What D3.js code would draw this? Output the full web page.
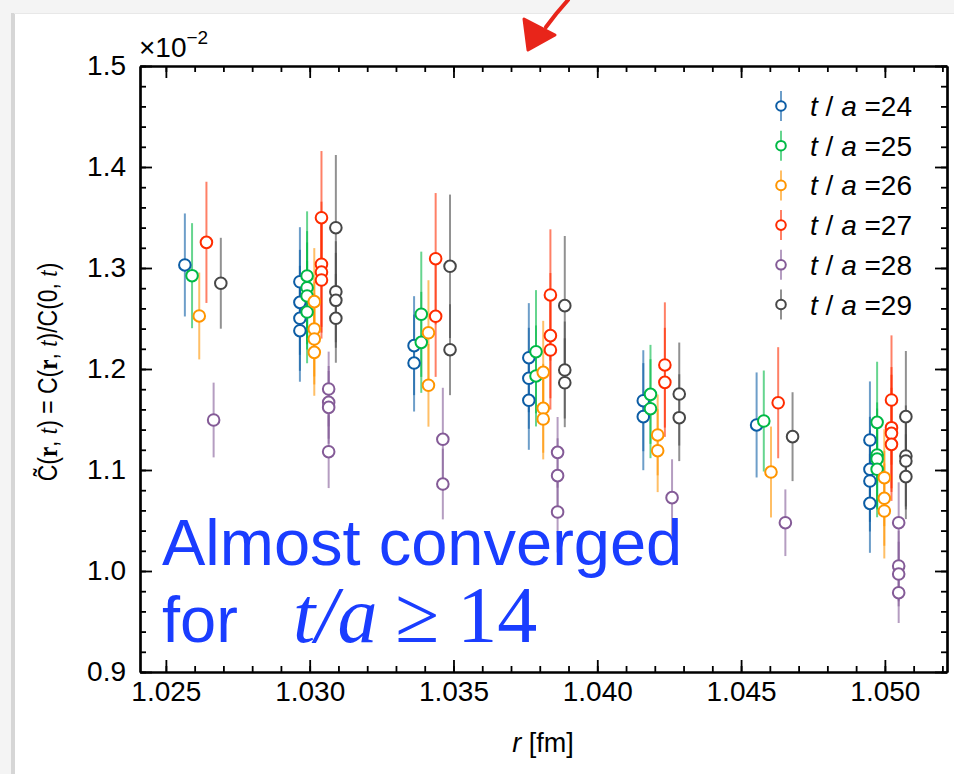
<!DOCTYPE html>
<html>
<head>
<meta charset="utf-8">
<script src="https://cdn.jsdelivr.net/npm/d3@7"></script>
<style>
  body { margin: 0; background: #f4f4f4; }
  svg { display: block; }
</style>
</head>
<body>
<svg id="chart" width="954" height="774"></svg>
<script>
// r values of the seven groups (fm), series drawn with a small dodge
var groupR = [1.02566, 1.02966, 1.03363, 1.03762, 1.04160, 1.04554, 1.04948];
var seriesNames = ["24", "25", "26", "27", "28", "29"];
var seriesColors = ["#0C5DA5", "#00B945", "#FF9500", "#FF2C00", "#845B97", "#474747"];

// [group, value (x1e-2), error]
var t24 = [[0,1.303,0.051],
  [1,1.2864,0.054],[1,1.266,0.052],[1,1.2502,0.052],[1,1.2379,0.0505],
  [2,1.2231,0.049],[2,1.2059,0.048],
  [3,1.2112,0.054],[3,1.1908,0.05],[3,1.1690,0.049],
  [4,1.1686,0.05],[4,1.1528,0.053],
  [5,1.1446,0.052],
  [6,1.1297,0.058],[6,1.1007,0.052],[6,1.0891,0.05],[6,1.0670,0.049]];
var t25 = [[0,1.2924,0.052],
  [1,1.2921,0.064],[1,1.2805,0.056],[1,1.2723,0.053],[1,1.2564,0.0507],
  [2,1.2542,0.062],[2,1.2264,0.050],
  [3,1.2171,0.061],[3,1.1931,0.050],
  [4,1.1749,0.049],[4,1.1607,0.049],
  [5,1.1485,0.05],
  [6,1.1472,0.06],[6,1.1149,0.052],[6,1.1109,0.05],[6,1.1007,0.0475]];
var t26 = [[0,1.2525,0.043],
  [1,1.2667,0.053],[1,1.2396,0.047],[1,1.2297,0.045],[1,1.2165,0.043],
  [2,1.2359,0.052],[2,1.1839,0.041],
  [3,1.1967,0.051],[3,1.1611,0.044],[3,1.1505,0.040],
  [4,1.1347,0.04],[4,1.1191,0.041],
  [5,1.098,0.045],
  [6,1.0924,0.048],[6,1.0720,0.047],[6,1.0594,0.047]];
var t27 = [[0,1.3254,0.06],
  [1,1.3498,0.066],[1,1.3037,0.062],[1,1.296,0.06],[1,1.2881,0.058],
  [2,1.3092,0.065],[2,1.2522,0.060],
  [3,1.2733,0.065],[3,1.2330,0.062],[3,1.2188,0.059],
  [4,1.2040,0.062],[4,1.1868,0.054],
  [5,1.1666,0.055],
  [6,1.1693,0.064],[6,1.1419,0.06],[6,1.1363,0.058],[6,1.1254,0.056]];
var t28 = [[0,1.1495,0.037],
  [1,1.1802,0.037],[1,1.1670,0.036],[1,1.1620,0.036],[1,1.1181,0.036],
  [2,1.1304,0.051],[2,1.0861,0.035],
  [3,1.1175,0.035],[3,1.0944,0.037],[3,1.0584,0.04],
  [4,1.0726,0.038],
  [5,1.0478,0.033],
  [6,1.0478,0.04],[6,1.0050,0.035],[6,0.9970,0.032],[6,0.9785,0.03]];
var t29 = [[0,1.2849,0.045],
  [1,1.3399,0.072],[1,1.2765,0.05],[1,1.2680,0.047],[1,1.2502,0.044],
  [2,1.3017,0.071],[2,1.2191,0.045],
  [3,1.2627,0.069],[3,1.1990,0.048],[3,1.1864,0.044],
  [4,1.1752,0.051],[4,1.1518,0.043],
  [5,1.133,0.044],
  [6,1.1528,0.065],[6,1.1139,0.05],[6,1.1089,0.048],[6,1.0934,0.042]];

var xTicks = [1.025, 1.030, 1.035, 1.040, 1.045, 1.050];
var yTicks = [0.9, 1.0, 1.1, 1.2, 1.3, 1.4, 1.5];

var allSeries = [t24, t25, t26, t27, t28, t29];
var dodge = 0.00025;

var svg = d3.select("#chart"),
    W = 954, H = 774,
    margin = {top: 66, right: 7, bottom: 102, left: 140},
    sans = "'Liberation Sans', Arial, Helvetica, sans-serif",
    serif = "'Liberation Serif', 'Times New Roman', serif";

// slide card background
svg.append("rect").attr("x", 0).attr("y", 0).attr("width", W).attr("height", H).attr("fill", "#f4f4f4");
svg.append("rect").attr("x", 11).attr("y", 13).attr("width", 4).attr("height", H - 13).attr("fill", "#d6d6d6");
svg.append("rect").attr("x", 14).attr("y", 13).attr("width", W - 14).attr("height", 1).attr("fill", "#e8e8e8");
svg.append("rect").attr("x", 15).attr("y", 14).attr("width", W - 15).attr("height", H - 14).attr("fill", "#fff");

var x = d3.scaleLinear().domain([1.0241, 1.05216]).range([margin.left, W - margin.right]);
var y = d3.scaleLinear().domain([0.9, 1.5]).range([H - margin.bottom, margin.top]);

var xMinor = d3.range(1024, 1053).map(function(d) { return d / 1000; })
    .filter(function(d) { return d >= 1.0241 && d <= 1.05216; });
var yMinor = d3.range(45, 76).map(function(d) { return d / 50; });

function styleAxis(g) {
  g.select(".domain").attr("stroke", "#000").attr("stroke-width", 2.2);
  g.selectAll(".tick line").attr("stroke", "#000").attr("stroke-width", 1.8);
  g.selectAll("text").attr("font-family", sans).attr("font-size", 28).attr("fill", "#000");
}

// minor ticks
svg.append("g").attr("transform", "translate(0," + y(0.9) + ")")
  .call(d3.axisBottom(x).tickValues(xMinor).tickSize(-6).tickSizeOuter(0).tickFormat("")).call(styleAxis);
svg.append("g").attr("transform", "translate(0," + y(1.5) + ")")
  .call(d3.axisTop(x).tickValues(xMinor).tickSize(-6).tickSizeOuter(0).tickFormat("")).call(styleAxis);
svg.append("g").attr("transform", "translate(" + x.range()[0] + ",0)")
  .call(d3.axisLeft(y).tickValues(yMinor).tickSize(-6).tickSizeOuter(0).tickFormat("")).call(styleAxis);
svg.append("g").attr("transform", "translate(" + x.range()[1] + ",0)")
  .call(d3.axisRight(y).tickValues(yMinor).tickSize(-6).tickSizeOuter(0).tickFormat("")).call(styleAxis);

// major ticks
svg.append("g").attr("transform", "translate(0," + y(0.9) + ")")
  .call(d3.axisBottom(x).tickValues(xTicks).tickSize(-12).tickSizeOuter(0).tickPadding(9).tickFormat(d3.format(".3f")))
  .call(styleAxis);
svg.append("g").attr("transform", "translate(0," + y(1.5) + ")")
  .call(d3.axisTop(x).tickValues(xTicks).tickSize(-12).tickSizeOuter(0).tickFormat("")).call(styleAxis);
svg.append("g").attr("transform", "translate(" + x.range()[0] + ",0)")
  .call(d3.axisLeft(y).tickValues(yTicks).tickSize(-12).tickSizeOuter(0).tickPadding(14).tickFormat(d3.format(".1f")))
  .call(styleAxis);
svg.append("g").attr("transform", "translate(" + x.range()[1] + ",0)")
  .call(d3.axisRight(y).tickValues(yTicks).tickSize(-12).tickSizeOuter(0).tickFormat("")).call(styleAxis);

// points
var points = [];
allSeries.forEach(function(s, i) {
  s.forEach(function(p) {
    points.push({i: i, r: groupR[p[0]] + i * dodge, v: p[1], e: p[2]});
  });
});

svg.append("g").selectAll("line").data(points).enter().append("line")
  .attr("x1", function(d) { return x(d.r); })
  .attr("x2", function(d) { return x(d.r); })
  .attr("y1", function(d) { return y(d.v + d.e); })
  .attr("y2", function(d) { return y(d.v - d.e); })
  .attr("stroke", function(d) { return seriesColors[d.i]; })
  .attr("stroke-opacity", 0.6)
  .attr("stroke-width", 2);

svg.append("g").selectAll("circle").data(points).enter().append("circle")
  .attr("cx", function(d) { return x(d.r); })
  .attr("cy", function(d) { return y(d.v); })
  .attr("r", 5.8)
  .attr("fill", "#fff")
  .attr("stroke", function(d) { return seriesColors[d.i]; })
  .attr("stroke-width", 2);

// legend
var legend = svg.append("g").selectAll("g").data(seriesNames).enter().append("g")
  .attr("transform", function(d, i) { return "translate(781," + (106 + i * 39.7) + ")"; });
legend.append("line").attr("y1", -15).attr("y2", 15)
  .attr("stroke", function(d, i) { return seriesColors[i]; })
  .attr("stroke-opacity", 0.6).attr("stroke-width", 2);
legend.append("circle").attr("r", 4.8).attr("fill", "#fff")
  .attr("stroke", function(d, i) { return seriesColors[i]; }).attr("stroke-width", 2);
var lt = legend.append("text").attr("x", 29).attr("y", 10)
  .attr("font-family", sans).attr("font-size", 28).attr("fill", "#000");
lt.append("tspan").attr("font-style", "italic").text("t");
lt.append("tspan").text(" / ");
lt.append("tspan").attr("font-style", "italic").text("a");
lt.append("tspan").text(function(d) { return " =" + d; });

// offset label
var off = svg.append("text").attr("x", 139).attr("y", 57)
  .attr("font-family", sans).attr("font-size", 28).attr("fill", "#000");
off.append("tspan").text("\u00d710");
off.append("tspan").attr("dy", -13).attr("font-size", 19).text("\u22122");

// axis titles
var xl = svg.append("text").attr("x", 543).attr("y", 752).attr("text-anchor", "middle")
  .attr("font-family", sans).attr("font-size", 27).attr("fill", "#000");
xl.append("tspan").attr("font-style", "italic").text("r");
xl.append("tspan").text(" [fm]");

var yl = svg.append("text").attr("transform", "translate(57,372) rotate(-90) scale(0.85,1)")
  .attr("text-anchor", "middle").attr("font-family", sans).attr("font-size", 27).attr("fill", "#000");
[["C\u0303(", null], ["r", "b"], [", ", null], ["t", "i"], [") = C(", null], ["r", "b"], [", ", null],
 ["t", "i"], [")/C(0, ", null], ["t", "i"], [")", null]].forEach(function(p) {
  var ts = yl.append("tspan").text(p[0]);
  if (p[1] === "b") ts.attr("font-family", serif).attr("font-weight", "bold");
  if (p[1] === "i") ts.attr("font-family", serif).attr("font-style", "italic");
});

// annotation
var blue = "#1a3dff";
svg.append("text").attr("x", 162).attr("y", 565).attr("font-family", sans).attr("font-size", 65)
  .attr("fill", blue).text("Almost converged");
svg.append("text").attr("x", 162).attr("y", 642).attr("font-family", sans).attr("font-size", 65)
  .attr("fill", blue).text("for");
var m = svg.append("text").attr("x", 293).attr("y", 642).attr("font-family", serif).attr("font-size", 80)
  .attr("fill", blue);
m.append("tspan").attr("font-style", "italic").text("t/a");
m.append("tspan").attr("dx", 18).text("\u2265");
m.append("tspan").attr("dx", 18).text("14");

// red hand-drawn arrow
svg.append("path").attr("d", "M568,0 L556,14 L546,27")
  .attr("fill", "none").attr("stroke", "#e8251a").attr("stroke-width", 4).attr("stroke-linecap", "round");
svg.append("path").attr("d", "M524,19 L555,35 L528,50 Z")
  .attr("fill", "#e8251a").attr("stroke", "#e8251a").attr("stroke-width", 3).attr("stroke-linejoin", "round");
</script>
</body>
</html>
